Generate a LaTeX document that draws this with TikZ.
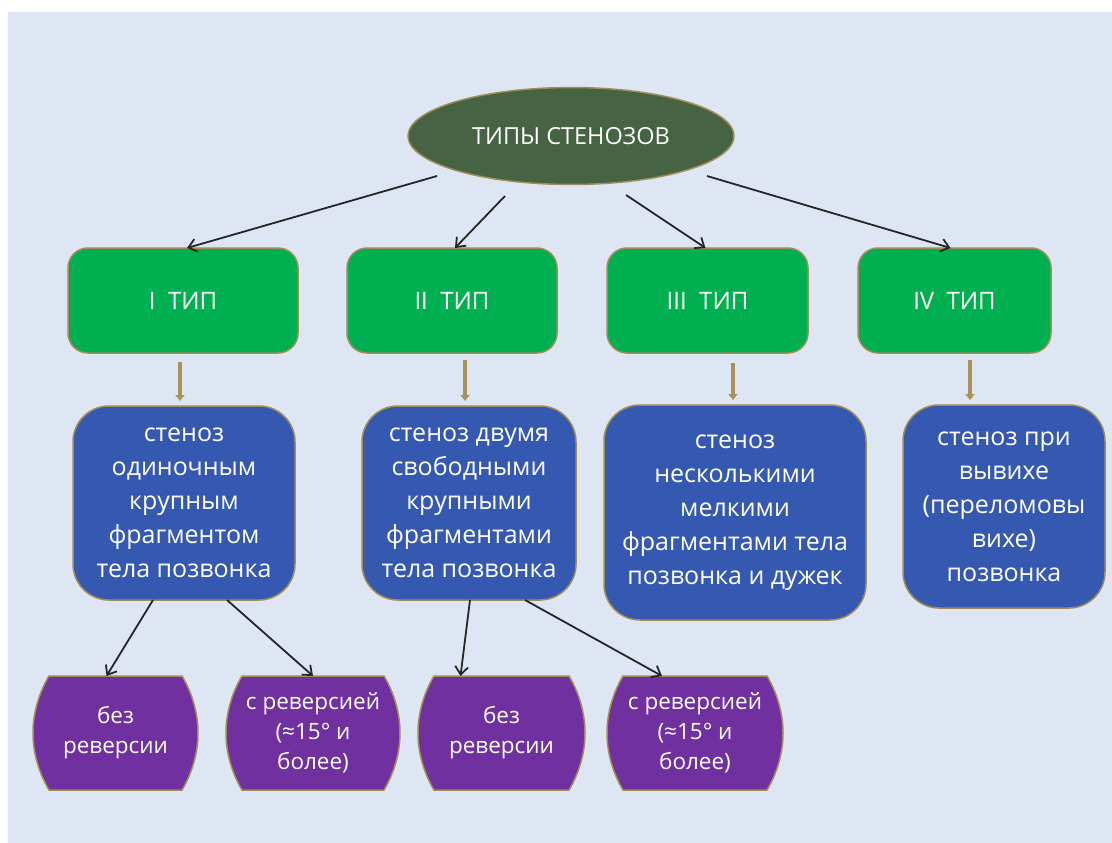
\documentclass[tikz,border=0pt]{standalone}
\usepackage{fontspec}
\setmainfont{Open Sans}
\usetikzlibrary{shapes.geometric,arrows.meta}
\pgfdeclarelayer{bg}
\pgfdeclarelayer{shapes}
\pgfsetlayers{bg,shapes,main}
\definecolor{panel}{HTML}{DFE6F3}
\definecolor{egreen}{HTML}{466444}
\definecolor{bgreen}{HTML}{00B050}
\definecolor{bblue}{HTML}{3559B0}
\definecolor{bpurple}{HTML}{7030A0}
\definecolor{gold}{HTML}{A08C55}
\definecolor{goldarrow}{HTML}{A8925A}
\tikzset{
  x=1pt, y=-1pt,
  ovalbox/.style={ellipse, fill=egreen, draw=gold, line width=1.5pt, text=white,
    minimum width=326pt, minimum height=97pt, inner sep=0pt, outer sep=0pt,
    font=\fontsize{23.5}{28}\selectfont},
  typebox/.style={rectangle, rounded corners=20pt, fill=bgreen, draw=gold, line width=1.5pt,
    text=white, minimum height=105pt, inner sep=0pt, outer sep=0pt,
    font=\fontsize{24}{28}\selectfont},
  descbox/.style={rectangle, rounded corners=36pt, fill=bblue, draw=gold, line width=1.5pt,
    text=white, inner sep=0pt, outer sep=0pt, align=center,
    font=\fontsize{25}{34}\selectfont},
  subtext/.style={rectangle, inner sep=0pt, outer sep=0pt, text=white, align=center,
    minimum height=114pt, font=\fontsize{22.5}{30}\selectfont},
  barrelshape/.style={fill=bpurple, draw=gold, line width=1.5pt},
  blackarrow/.style={-{Straight Barb[length=8pt,width=13pt,line width=1.8pt]}, line width=1.8pt, draw=black!85},
  goldarr/.style={-{Triangle[length=6pt,width=9pt]}, line width=3.5pt, draw=goldarrow, shorten >=5pt},
}
\newcommand{\barrelpath}[1]{%
  \path[barrelshape] ([xshift=16pt]#1.north west) -- ([xshift=-16pt]#1.north east)
    .. controls ([xshift=-6pt,yshift=-17pt]#1.north east) and ([yshift=-37pt]#1.north east) .. (#1.east)
    .. controls ([yshift=37pt]#1.south east) and ([xshift=-6pt,yshift=17pt]#1.south east) .. ([xshift=-16pt]#1.south east)
    -- ([xshift=16pt]#1.south west)
    .. controls ([xshift=6pt,yshift=17pt]#1.south west) and ([yshift=37pt]#1.south west) .. (#1.west)
    .. controls ([yshift=-37pt]#1.north west) and ([xshift=6pt,yshift=-17pt]#1.north west) .. cycle;}
\begin{document}
\begin{tikzpicture}
\useasboundingbox (0,0) rectangle (1112,843);
\begin{pgfonlayer}{bg}
  \fill[white] (0,0) rectangle (1112,843);
  \fill[panel] (8,12) rectangle (1112,843);
\end{pgfonlayer}

\node[ovalbox] (e) at (571,136) {ТИПЫ СТЕНОЗОВ};

\node[typebox, minimum width=230pt] (g1) at (183,300.5) {I\ \ ТИП};
\node[typebox, minimum width=210pt] (g2) at (452,300.5) {II\ \ ТИП};
\node[typebox, minimum width=201pt] (g3) at (707.5,300.5) {III\ \ ТИП};
\node[typebox, minimum width=193pt] (g4) at (954.5,300.5) {IV\ \ ТИП};

\node[descbox, minimum width=222pt, minimum height=194pt] (b1) at (184,503)
  {стеноз\\одиночным\\крупным\\фрагментом\\тела позвонка};
\node[descbox, minimum width=214pt, minimum height=194pt] (b2) at (469,503)
  {стеноз двумя\\свободными\\крупными\\фрагментами\\тела позвонка};
\node[descbox, minimum width=262pt, minimum height=215pt] (b3) at (735,512.5)
  {стеноз\\несколькими\\мелкими\\фрагментами тела\\позвонка и дужек};
\node[descbox, minimum width=202pt, minimum height=203pt] (b4) at (1004,506.5)
  {стеноз при\\вывихе\\(переломовы\\вихе)\\позвонка};

\node[subtext, minimum width=165pt] (p1) at (115.5,733) {без\\реверсии};
\node[subtext, minimum width=174pt] (p2) at (313,733) {с реверсией\\(≈15° и\\более)};
\node[subtext, minimum width=167pt] (p3) at (501.5,733) {без\\реверсии};
\node[subtext, minimum width=176pt] (p4) at (695,733) {с реверсией\\(≈15° и\\более)};

\begin{pgfonlayer}{shapes}
  \barrelpath{p1}
  \barrelpath{p2}
  \barrelpath{p3}
  \barrelpath{p4}
\end{pgfonlayer}

% arrows from the oval
\coordinate (s1) at (437,176);
\coordinate (s2) at (505,196);
\coordinate (s3) at (626,195);
\coordinate (s4) at (707,176);
\draw[blackarrow] (s1) -- ([xshift=4pt]g1.north);
\draw[blackarrow] (s2) -- ([xshift=3pt]g2.north);
\draw[blackarrow] (s3) -- ([xshift=-2pt]g3.north);
\draw[blackarrow] (s4) -- ([xshift=-4pt]g4.north);

% gold arrows
\coordinate (t1) at (180,362);
\coordinate (t2) at (465,360);
\coordinate (t3) at (733,363);
\coordinate (t4) at (970,360);
\draw[goldarr] (t1) -- (t1 |- b1.north);
\draw[goldarr] (t2) -- (t2 |- b2.north);
\draw[goldarr] (t3) -- (t3 |- b3.north);
\draw[goldarr] (t4) -- (t4 |- b4.north);

% arrows to the purple boxes
\draw[blackarrow] ([xshift=-31pt]b1.south) -- ([xshift=-9pt]p1.north);
\draw[blackarrow] ([xshift=43pt]b1.south) -- ([xshift=0pt]p2.north);
\draw[blackarrow] ([xshift=1pt]b2.south) -- ([xshift=-41pt]p3.north);
\draw[blackarrow] ([xshift=56pt]b2.south) -- ([xshift=-33pt]p4.north);
\end{tikzpicture}
\end{document}
